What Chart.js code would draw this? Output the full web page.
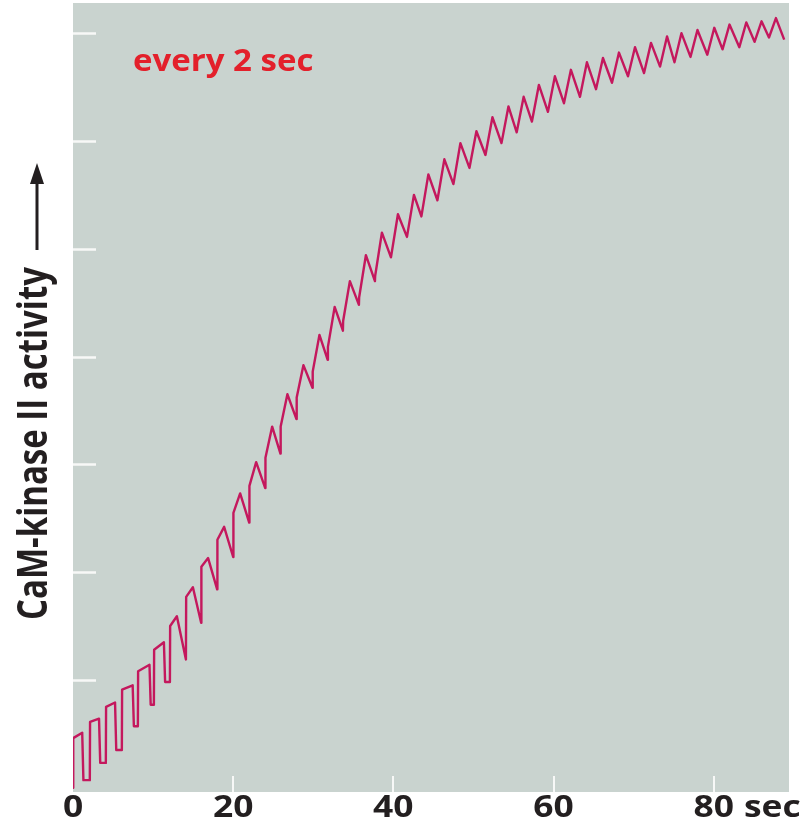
<!DOCTYPE html>
<html>
<head>
<meta charset="utf-8">
<script src="https://cdn.jsdelivr.net/npm/chart.js@4.4.0/dist/chart.umd.min.js"></script>
<style>
  body { margin: 0; background: #ffffff; }
  #wrap { width: 802px; height: 836px; }
</style>
</head>
<body>
<div id="wrap"><canvas id="myChart" width="802" height="836"></canvas></div>
<script>
// stimulus pulses, one every ~2 s (start of each fast rise, seconds)
var stimTimes = [0.0, 2.1, 4.1, 6.1, 8.1, 10.1, 12.1, 14.1, 16.0, 18.0, 20.0, 22.0, 24.0, 25.9, 27.9,
                 29.9, 31.8, 33.7, 35.7, 37.7, 39.7, 41.7, 43.5, 45.5, 47.5, 49.5, 51.5, 53.5, 55.4, 57.3,
                 59.3, 61.3, 63.3, 65.3, 67.3, 69.3, 71.3, 73.3, 75.1, 77.1, 79.2, 81.1, 83.2, 85.1, 86.9];
// activity right before each pulse (trough)
var startLevel = [0.00, 0.07, 0.23, 0.35, 0.57, 0.77, 0.98, 1.19, 1.53, 1.84, 2.14, 2.46, 2.78, 3.10, 3.42,
                  3.71, 3.97, 4.24, 4.48, 4.70, 4.92, 5.11, 5.30, 5.45, 5.60, 5.75, 5.87, 5.98, 6.08, 6.18,
                  6.27, 6.35, 6.41, 6.48, 6.54, 6.60, 6.63, 6.69, 6.73, 6.78, 6.80, 6.85, 6.87, 6.92, 6.96];
// activity at the top of each pulse
var peakLevel = [0.51, 0.64, 0.79, 0.95, 1.14, 1.35, 1.59, 1.86, 2.13, 2.42, 2.73, 3.02, 3.35, 3.65, 3.92,
                 4.20, 4.46, 4.70, 4.94, 5.15, 5.32, 5.50, 5.69, 5.83, 5.98, 6.09, 6.22, 6.32, 6.41, 6.52,
                 6.60, 6.66, 6.73, 6.77, 6.82, 6.87, 6.91, 6.97, 7.00, 7.03, 7.05, 7.08, 7.10, 7.11, 7.14];
// level reached by the near-vertical jump (first pulses only)
var jumpLevel = [0.46, 0.61, 0.75, 0.91, 1.08, 1.28, 1.50, 1.77, 2.05, 2.30, 2.55, 2.80, 3.06, 3.35, 3.62,
                 3.86, 4.09, 4.33, 4.55, 4.75];
// time of the sharp drop for the square-shaped first pulses (s)
var plateauEnd = [1.3, 3.4, 5.4, 7.6, 9.7, 11.5];
var riseTime = 0.87;
var endTime = 88.8, endLevel = 6.94;

var xTicks = [0, 20, 40, 60, 80];
var yTicks = [1, 2, 3, 4, 5, 6, 7];

// 곡선의 꼭짓점을 만든다
var points = [];
stimTimes.forEach(function (t, k) {
    var next = k + 1 < startLevel.length ? startLevel[k + 1] : endLevel;
    points.push({ x: t, y: startLevel[k] });
    if (k < jumpLevel.length) points.push({ x: t + 0.03, y: jumpLevel[k] });
    if (k < plateauEnd.length) {
        points.push({ x: plateauEnd[k] - 0.15, y: peakLevel[k] });
        points.push({ x: plateauEnd[k], y: next });
    } else {
        points.push({ x: t + riseTime, y: peakLevel[k] });
    }
});
points.push({ x: endTime, y: endLevel });

var FONT = '"Open Sans", "DejaVu Sans", sans-serif';
var INK = '#231f20';

function wideText(ctx, text, x, y, sx, align) {
    ctx.save();
    ctx.translate(x, y);
    ctx.scale(sx, 1);
    ctx.textAlign = align;
    ctx.fillText(text, 0, 0);
    ctx.restore();
}

var decor = {
    id: 'decor',
    beforeDraw: function (chart) {
        var ctx = chart.ctx, a = chart.chartArea;
        ctx.save();
        ctx.fillStyle = '#c9d3cf';
        ctx.fillRect(a.left, a.top, a.right - a.left, a.bottom - a.top);
        ctx.restore();
    },
    beforeDatasetsDraw: function (chart) {
        var ctx = chart.ctx, a = chart.chartArea;
        var xs = chart.scales.x, ys = chart.scales.y;
        ctx.save();
        ctx.strokeStyle = '#f7f8f7';
        ctx.lineWidth = 2.5;
        yTicks.forEach(function (v) {
            var py = Math.round(ys.getPixelForValue(v)) + 0.5;
            ctx.beginPath();
            ctx.moveTo(a.left, py);
            ctx.lineTo(a.left + 23, py);
            ctx.stroke();
        });
        ctx.lineWidth = 2;
        xTicks.forEach(function (v) {
            if (v === 0) return;
            var px = Math.round(xs.getPixelForValue(v));
            ctx.beginPath();
            ctx.moveTo(px, a.bottom);
            ctx.lineTo(px, a.bottom - 16);
            ctx.stroke();
        });
        ctx.restore();
    },
    afterDraw: function (chart) {
        var ctx = chart.ctx;
        var xs = chart.scales.x;
        ctx.save();
        // x tick labels
        ctx.fillStyle = INK;
        ctx.font = 'bold 30px ' + FONT;
        ctx.textBaseline = 'alphabetic';
        var sx = 1.18;
        xTicks.forEach(function (v) {
            var px = xs.getPixelForValue(v);
            wideText(ctx, String(v), px, 817, sx, 'center');
            if (v === 80) {
                var half = ctx.measureText('80').width * sx / 2;
                wideText(ctx, 'sec', px + half + 10, 817, sx, 'left');
            }
        });
        // y title, rotated
        ctx.save();
        ctx.translate(47, 620);
        ctx.rotate(-Math.PI / 2);
        ctx.scale(1, 1.27);
        ctx.font = 'bold 33px ' + FONT;
        ctx.textAlign = 'left';
        ctx.fillText('CaM-kinase II activity', 0, 0);
        ctx.restore();
        // arrow
        ctx.strokeStyle = INK;
        ctx.lineWidth = 3;
        ctx.beginPath();
        ctx.moveTo(37, 250);
        ctx.lineTo(37, 180);
        ctx.stroke();
        ctx.beginPath();
        ctx.moveTo(37, 163);
        ctx.lineTo(44, 184);
        ctx.lineTo(30, 184);
        ctx.closePath();
        ctx.fill();
        // note
        ctx.fillStyle = '#e3202b';
        ctx.font = 'bold 30px ' + FONT;
        wideText(ctx, 'every 2 sec', 133, 71, 1.1, 'left');
        ctx.restore();
    }
};

var chartArea = document.getElementById('myChart').getContext('2d');
var myChart = new Chart(chartArea, {
    type: 'line',
    data: {
        datasets: [{
            label: 'CaM-kinase II activity',
            data: points,
            borderColor: '#c4185d',
            borderWidth: 2.4,
            borderJoinStyle: 'round',
            pointRadius: 0,
            tension: 0,
            fill: false
        }]
    },
    options: {
        responsive: false,
        animation: false,
        layout: { padding: { left: 73, right: 13, top: 3, bottom: 44 } },
        plugins: { legend: { display: false }, tooltip: { enabled: false } },
        scales: {
            x: { type: 'linear', min: 0, max: 89.4, display: false },
            y: { type: 'linear', min: -0.04, max: 7.28, display: false }
        }
    },
    plugins: [decor]
});
</script>
</body>
</html>
